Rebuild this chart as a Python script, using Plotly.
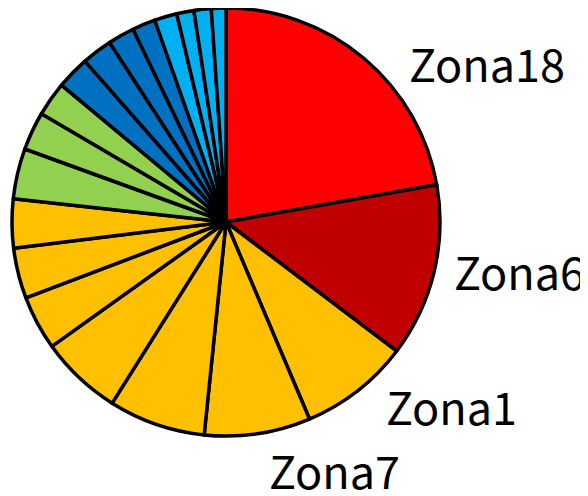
import plotly.graph_objects as go

# Data
zones = ["Zona18", "Zona6", "Zona1", "Zona7", "Zona2", "Zona3", "Zona4", "Zona5",
         "Zona8", "Zona9", "Zona10", "Zona11", "Zona12", "Zona13", "Zona14", "Zona15",
         "Zona16", "Zona17", "Zona19", "Zona20"]
values = [22.2, 13.1, 8.3, 8.0, 7.3, 6.2, 4.1, 3.8,
          3.7, 3.8, 2.9, 2.6, 2.5, 2.3, 2.0, 1.75,
          1.7, 1.3, 1.3, 1.1]
groups = ["red", "darkred"] + ["yellow"] * 7 + ["green"] * 3 + ["blue"] * 4 + ["lightblue"] * 4
shown_labels = ["Zona18", "Zona6", "Zona1", "Zona7"]

palette = {"red": "#FF0000", "darkred": "#C00000", "yellow": "#FFC000",
           "green": "#92D050", "blue": "#0070C0", "lightblue": "#00B0F0"}
colors = [palette[g] for g in groups]

# page has an 8px body margin; figure fills the rest of the 588x496 window
OFF = 8
W, H = 588 - OFF, 496 - OFF
cx, cy, r = 226 - OFF, 222 - OFF, 214

fig = go.Figure(go.Pie(
    labels=zones,
    values=values,
    sort=False,
    direction="clockwise",
    rotation=0,
    marker=dict(colors=colors, line=dict(color="black", width=3.5)),
    textinfo="none",
    hoverinfo="label+value",
    domain=dict(x=[(cx - r) / W, (cx + r) / W], y=[1 - (cy + r) / H, 1 - (cy - r) / H]),
    showlegend=False,
))

# label positions (page pixel centres)
label_pos = {"Zona18": (487, 62), "Zona6": (519, 270), "Zona1": (451, 405), "Zona7": (334, 469)}
for name in shown_labels:
    px, py = label_pos[name]
    fig.add_annotation(x=(px - OFF) / W, y=1 - (py - OFF) / H, xref="paper", yref="paper",
                       text=name, showarrow=False, xanchor="center", yanchor="middle",
                       height=50,
                       font=dict(family="Noto Sans CJK JP", size=45, color="black"))

fig.update_layout(width=W, height=H, margin=dict(l=0, r=0, t=0, b=0),
                  paper_bgcolor="white", plot_bgcolor="white")
fig.write_html("out.html")
